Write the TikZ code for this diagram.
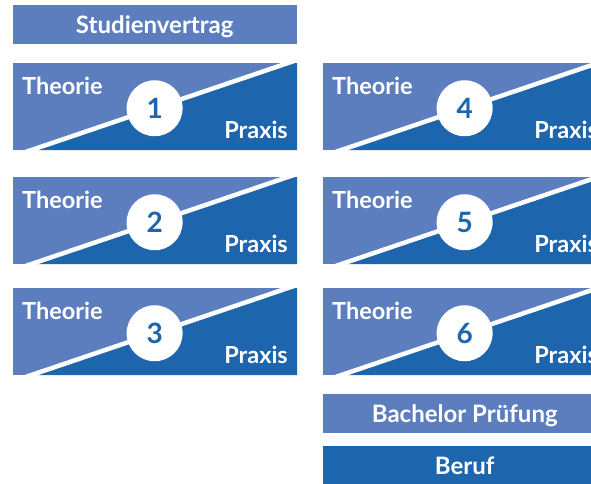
\documentclass[tikz,border=0pt]{standalone}
\usepackage{fontspec}
\setmainfont{Lato}
\usetikzlibrary{calc}
\definecolor{lightblue}{RGB}{92,126,190}
\definecolor{darkblue}{RGB}{29,101,172}
\newcommand\tpblock[4]{%
  \node[blockbox] (#1) at (#2,#3) {};
  \coordinate (#1-a) at ($(#1.south west)+(19,0)$);
  \coordinate (#1-b) at ($(#1.north east)+(-9,0)$);
  \begin{scope}
    \clip (#1.south west) rectangle (#1.north east);
    \fill[darkblue] (#1-a) -- (#1.south east) -- (#1.north east) -- (#1-b) -- cycle;
    \draw[sepline] ($(#1-a)!-0.1!(#1-b)$) -- ($(#1-b)!-0.1!(#1-a)$);
  \end{scope}
  \node[numcirc] (#1-n) at ($(#1-a)!0.48!(#1-b)$) {#4};
  \node[lbl, anchor=base west] (#1-t) at ($(#1.north west)+(9.5,31)$) {Theorie};
  \node[lbl, anchor=base east] (#1-p) at ($(#1.north east)+(-9,75)$) {Praxis};
}
\begin{document}
\begin{tikzpicture}[x=1pt,y=-1pt,
  bar/.style={minimum width=284.5pt, minimum height=39pt, inner sep=0pt, outer sep=0pt,
    text height=19pt, text depth=1pt,
    anchor=north west, text=white, font=\bfseries\fontsize{24}{28}\selectfont},
  lbar/.style={bar, fill=lightblue},
  dbar/.style={bar, fill=darkblue},
  blockbox/.style={minimum width=284.5pt, minimum height=87pt, inner sep=0pt, outer sep=0pt,
    anchor=north west, fill=lightblue},
  lbl/.style={text=white, font=\bfseries\fontsize{23.5}{28}\selectfont, inner sep=0pt},
  numcirc/.style={circle, fill=white, minimum size=56pt, inner sep=0pt, text=darkblue,
    font=\bfseries\fontsize{28}{32}\selectfont},
  sepline/.style={white, line width=4.5pt}]
\useasboundingbox (0,0) rectangle (591,483);
\clip (0,0) rectangle (591,483);
\node[lbar] (sv) at (12.5,5) {Studienvertrag};
\tpblock{b1}{12.5}{63}{1}
\tpblock{b2}{12.5}{177}{2}
\tpblock{b3}{12.5}{288}{3}
\tpblock{b4}{322.5}{63}{4}
\tpblock{b5}{322.5}{177}{5}
\tpblock{b6}{322.5}{288}{6}
\node[lbar] (bp) at (322.5,394) {Bachelor Prüfung};
\node[dbar] (be) at (322.5,446) {Beruf};
\end{tikzpicture}
\end{document}
